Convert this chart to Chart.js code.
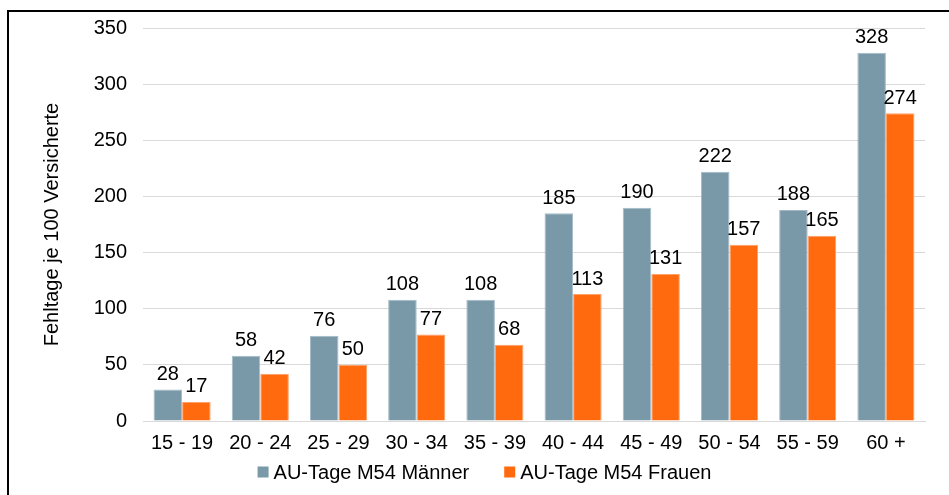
<!DOCTYPE html>
<html>
<head>
<meta charset="utf-8">
<script src="https://cdn.jsdelivr.net/npm/chart.js@4/dist/chart.umd.min.js"></script>
<style>
    html, body { margin: 0; padding: 0; background: #fff; }
    #wrap { position: relative; width: 949px; height: 495px; overflow: hidden; }
    #frame { position: absolute; left: 7px; top: 10px; width: 960px; height: 500px;
             border-left: 2px solid #000; border-top: 2px solid #000; }
    canvas { position: absolute; left: 0; top: 0; }
</style>
</head>
<body>
<div id="wrap">
    <div id="frame"></div>
    <canvas id="chart" width="949" height="495"></canvas>
</div>
<script>
// Altersgruppen und Werte (Fehltage je 100 Versicherte)
const ageGroups = ['15 - 19', '20 - 24', '25 - 29', '30 - 34', '35 - 39', '40 - 44', '45 - 49', '50 - 54', '55 - 59', '60 +'];
const maenner = [28, 58, 76, 108, 108, 185, 190, 222, 188, 328];
const frauen = [17, 42, 50, 77, 68, 113, 131, 157, 165, 274];
const yTicks = [0, 50, 100, 150, 200, 250, 300, 350];

const FONT = "'Liberation Sans', Arial, sans-serif";
const FONT_SIZE = 20;

// Werte über den Balken zeichnen
const valueLabels = {
    id: 'valueLabels',
    afterDatasetsDraw(chart) {
        const ctx = chart.ctx;
        ctx.save();
        ctx.font = FONT_SIZE + 'px ' + FONT;
        ctx.fillStyle = '#000';
        ctx.textAlign = 'center';
        ctx.textBaseline = 'bottom';
        chart.data.datasets.forEach((ds, i) => {
            chart.getDatasetMeta(i).data.forEach((bar, j) => {
                ctx.fillText(String(ds.data[j]), bar.x, bar.y - 5);
            });
        });
        ctx.restore();
    }
};

// Legende unten, wie im Original mit engem Abstand Kästchen-Text
const bottomLegend = {
    id: 'bottomLegend',
    afterDraw(chart) {
        const ctx = chart.ctx;
        const box = 11, gapText = 5, gapItem = 35;
        ctx.save();
        ctx.font = FONT_SIZE + 'px ' + FONT;
        ctx.textBaseline = 'middle';
        ctx.textAlign = 'left';
        const items = chart.data.datasets.map(ds => ({
            text: ds.label, color: ds.backgroundColor,
            w: box + gapText + ctx.measureText(ds.label).width
        }));
        const total = items.reduce((s, it) => s + it.w, 0) + gapItem * (items.length - 1);
        let x = (chart.width + 20) / 2 - total / 2;
        const y = chart.height - 23;
        items.forEach(it => {
            ctx.fillStyle = it.color;
            ctx.fillRect(x, y - box / 2, box, box);
            ctx.fillStyle = '#000';
            ctx.fillText(it.text, x + box + gapText, y + 1);
            x += it.w + gapItem;
        });
        ctx.restore();
    }
};

new Chart(document.getElementById('chart'), {
    type: 'bar',
    data: {
        labels: ageGroups,
        datasets: [
            { label: 'AU-Tage M54 Männer', data: maenner, backgroundColor: '#7a99a8',
              borderColor: '#a3bac6', borderWidth: 1 },
            { label: 'AU-Tage M54 Frauen', data: frauen, backgroundColor: '#ff6a0e',
              borderColor: '#ffa069', borderWidth: 1 }
        ]
    },
    options: {
        responsive: false,
        animation: false,
        layout: { padding: { left: 40, right: 24, top: 25, bottom: 38 } },
        datasets: { bar: { categoryPercentage: 0.73, barPercentage: 1.0 } },
        plugins: {
            tooltip: { enabled: false },
            legend: { display: false }
        },
        scales: {
            x: {
                grid: { display: false },
                border: { color: '#d9d9d9' },
                ticks: { font: { family: FONT, size: FONT_SIZE }, color: '#000', padding: 2 }
            },
            y: {
                min: 0,
                max: 350,
                afterBuildTicks: axis => { axis.ticks = yTicks.map(v => ({ value: v })); },
                grid: { color: '#d9d9d9', drawTicks: false },
                border: { display: false },
                ticks: { font: { family: FONT, size: FONT_SIZE }, color: '#000', padding: 16 },
                title: {
                    display: true,
                    text: 'Fehltage je 100 Versicherte',
                    font: { family: FONT, size: FONT_SIZE },
                    color: '#000',
                    padding: 0
                },
                afterFit: axis => { axis.width = 103; }
            }
        }
    },
    plugins: [valueLabels, bottomLegend]
});
</script>
</body>
</html>
